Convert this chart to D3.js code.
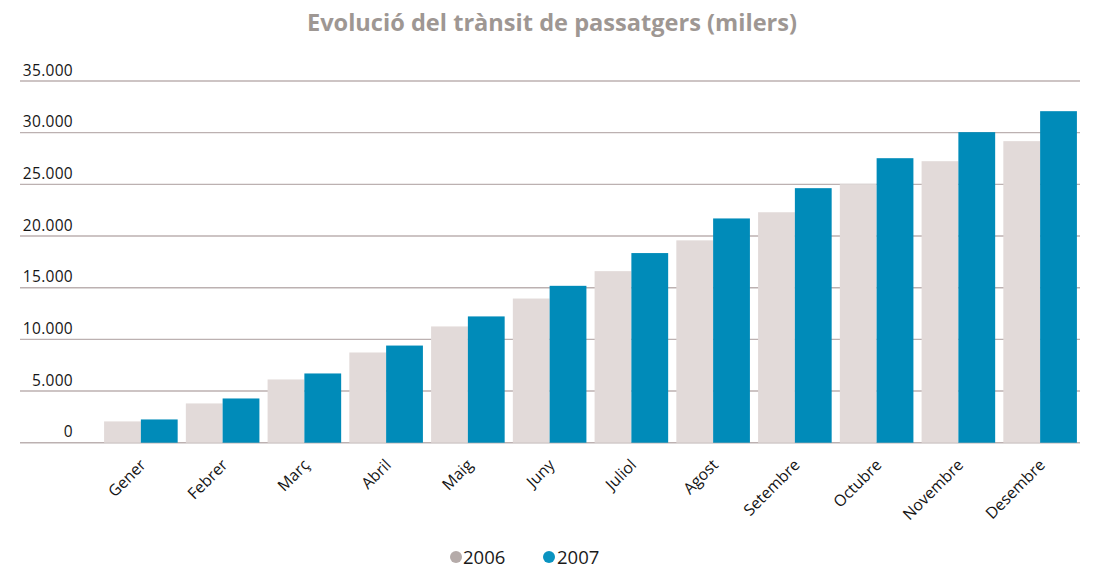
<!DOCTYPE html>
<html>
<head>
<meta charset="utf-8">
<script src="https://cdn.jsdelivr.net/npm/d3@7"></script>
<style>
  html, body { margin: 0; padding: 0; background: #fff; }
  svg { display: block; }
  text { font-family: "Open Sans", "Noto Sans", sans-serif; }
</style>
</head>
<body>
<svg id="chart" width="1100" height="569"></svg>
<script>
const title = "Evolució del trànsit de passatgers (milers)";
const months = ["Gener","Febrer","Març","Abril","Maig","Juny","Juliol","Agost","Setembre","Octubre","Novembre","Desembre"];
const series = ["2006", "2007"];
const values2006 = [2060, 3800, 6120, 8730, 11250, 13950, 16600, 19580, 22300, 25020, 27240, 29180];
const values2007 = [2250, 4280, 6700, 9400, 12220, 15180, 18350, 21700, 24630, 27530, 30050, 32080];
const yTicks = [0, 5000, 10000, 15000, 20000, 25000, 30000, 35000];
const yTickLabels = ["0", "5.000", "10.000", "15.000", "20.000", "25.000", "30.000", "35.000"];
const colors = { "2006": "#e2dad9", "2007": "#008bb9" };
const legendColors = { "2006": "#b5aba9", "2007": "#0a93c0" };

const svg = d3.select("#chart");

const y = d3.scaleLinear().domain([0, 35000]).range([442.7, 81]);
const x = d3.scaleBand().domain(months).range([100, 1081]).paddingInner(0.1).paddingOuter(0.05);
const xs = d3.scaleBand().domain(series).range([0, x.bandwidth()]).padding(0);

// Title
svg.append("text")
  .attr("x", 552).attr("y", 31)
  .attr("text-anchor", "middle")
  .attr("font-size", 23.6).attr("font-weight", "bold")
  .attr("fill", "#9e9793")
  .text(title);

// Grid lines
const grid = svg.append("g");
grid.selectAll("line").data(yTicks).join("line")
  .attr("x1", 20).attr("x2", 1080)
  .attr("y1", d => y(d)).attr("y2", d => y(d))
  .attr("stroke", "#bcb1b1").attr("stroke-width", 1.4);

// Y labels
svg.append("g").selectAll("text").data(yTicks).join("text")
  .attr("x", 73).attr("y", d => y(d) - 5.5)
  .attr("text-anchor", "end")
  .attr("font-size", 15.5).attr("fill", "#161616")
  .attr("letter-spacing", 0.3)
  .text((d, i) => yTickLabels[i]);

// Bars
const data = months.map((m, i) => ({ month: m, vals: [
  { s: "2006", v: values2006[i] },
  { s: "2007", v: values2007[i] }
]}));

const groups = svg.append("g").selectAll("g").data(data).join("g")
  .attr("transform", d => `translate(${x(d.month)},0)`);
groups.selectAll("rect").data(d => d.vals).join("rect")
  .attr("x", d => xs(d.s))
  .attr("width", xs.bandwidth())
  .attr("y", d => y(d.v))
  .attr("height", d => y(0) - y(d.v))
  .attr("fill", d => colors[d.s]);

// X labels
svg.append("g").selectAll("text").data(months).join("text")
  .attr("transform", d => `translate(${x(d) + x.bandwidth() / 2 + 6},466) rotate(-45)`)
  .attr("text-anchor", "end")
  .attr("font-size", 15.8).attr("fill", "#141414")
  .text(d => d);

// Legend
const legendPos = [{ s: "2006", cx: 456, tx: 463 }, { s: "2007", cx: 549, tx: 557 }];
const lg = svg.append("g");
lg.selectAll("circle").data(legendPos).join("circle")
  .attr("cx", d => d.cx).attr("cy", 557).attr("r", 6)
  .attr("fill", d => legendColors[d.s]);
lg.selectAll("text").data(legendPos).join("text")
  .attr("x", d => d.tx).attr("y", 564)
  .attr("font-size", 18.5).attr("fill", "#1a1a1a")
  .text(d => d.s);
</script>
</body>
</html>
